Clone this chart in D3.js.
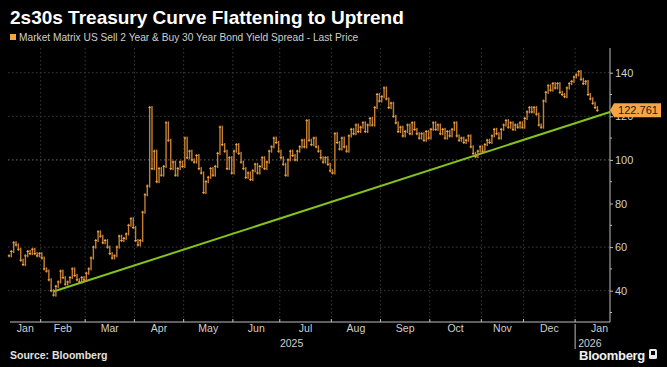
<!DOCTYPE html>
<html>
<head>
<meta charset="utf-8">
<script src="https://cdn.jsdelivr.net/npm/d3@7"></script>
<style>
  html, body { margin: 0; padding: 0; background: #000; }
  svg { display: block; }
</style>
</head>
<body>
<svg id="chart" width="667" height="367"></svg>
<script>
// ---------- DATA ----------
const title = "2s30s Treasury Curve Flattening to Uptrend";
const legendLabel = "Market Matrix US Sell 2 Year & Buy 30 Year Bond Yield Spread - Last Price";
const sourceText = "Source: Bloomberg";
const startDate = "2025-01-13";
const endDate = "2026-01-15";
const holidays = ["2025-01-20","2025-02-17","2025-04-18","2025-05-26","2025-06-19","2025-07-04",
  "2025-09-01","2025-10-13","2025-11-11","2025-11-27","2025-12-25","2026-01-01"];
// daily closing spread (bp), one per trading day
const closes = [
  56,58,62,61,59,54,52,56,58,57,59,57,56,57,
  55,50,49,45,40,38,42,44,49,46,43,44,46,50,47,45,44,46,45,
  48,50,55,60,63,67,65,62,63,60,57,55,56,60,65,63,64,66,70,73,69,
  63,61,63,76,84,88,124,96,104,90,96,93,97,117,109,96,99,93,96,99,97,
  110,101,104,100,99,102,96,94,85,90,92,96,93,97,103,115,107,104,96,101,94,
  104,107,103,99,96,92,94,91,95,98,94,97,101,96,99,104,106,110,108,104,
  101,98,93,100,104,102,100,104,106,109,106,118,109,107,110,106,104,101,99,101,98,95,
  94,112,108,105,110,106,104,111,114,112,116,113,115,117,113,116,119,116,124,130,127,
  129,133,128,124,126,120,117,113,115,111,113,116,112,117,114,112,110,112,109,113,110,
  114,117,114,116,112,114,110,113,111,114,117,111,109,110,108,109,111,106,103,101.5,104,106,
  104,107,109,108,111,114,112,110,114,116,118,115,117,114,116,115,117,115,
  119,122,124,122,124,121,116,115,127,131,134,132,135,133,135,131,130,129,133,135,136,138,
  139,140.5,137,135,136,130,128,126,124,122.761
];
const lastValue = 122.761;
// trendline anchors: date of the February low and level at the right edge
const trendStartDate = "2025-02-10";
const trendStartValue = 39.6;
const trendEndValue = 122.0;
const yTicksMajor = [40, 60, 80, 100, 120, 140];
const yTicksMinor = [30, 50, 70, 90, 110, 130];
const yGrid = [40, 60, 100, 120, 140];
const monthNames = ["Jan","Feb","Mar","Apr","May","Jun","Jul","Aug","Sep","Oct","Nov","Dec"];
const yearLabels = ["2025", "2026"];

// ---------- BUILD DATES ----------
const parse = d3.utcParse("%Y-%m-%d");
const fmt = d3.utcFormat("%Y-%m-%d");
const holidaySet = new Set(holidays);
const dates = d3.utcDay.range(parse(startDate), d3.utcDay.offset(parse(endDate), 1))
  .filter(d => d.getUTCDay() !== 0 && d.getUTCDay() !== 6 && !holidaySet.has(fmt(d)));
const data = dates.map((d, i) => ({ date: d, i, close: closes[i], open: i ? closes[i-1] : closes[i] }));

// ---------- LAYOUT ----------
const svg = d3.select("#chart");
const plotLeft = 8, plotRight = 610, plotTop = 48, plotBottom = 322;
const FONT = "Liberation Sans, Arial, sans-serif";

const x = d3.scaleLinear().domain([0, data.length - 1]).range([9, 597.4]);
const y = d3.scaleLinear().domain([40, 140]).range([290.7, 72.7]);
const idxRight = x.invert(plotRight);

svg.append("rect").attr("width", 667).attr("height", 367).attr("fill", "#000");

// title & legend
svg.append("text").attr("x", 10).attr("y", 24)
  .attr("fill", "#fff").attr("font-family", FONT)
  .attr("font-weight", "bold").attr("font-size", 19).text(title);
svg.append("rect").attr("x", 10).attr("y", 34).attr("width", 6).attr("height", 6).attr("fill", "#f7a33c");
svg.append("text").attr("x", 19).attr("y", 40.5)
  .attr("fill", "#cfcfcf").attr("font-family", FONT)
  .attr("font-size", 10.2).text(legendLabel);

// month boundaries (first trading day of each month)
const monthStarts = data.filter((d, i) => i > 0 && d.date.getUTCMonth() !== data[i-1].date.getUTCMonth());
const tickXs = monthStarts.map(d => x(d.i - 0.5));

// vertical grid
const grid = svg.append("g");
grid.selectAll("line.v").data(tickXs).join("line")
  .attr("x1", d => d).attr("x2", d => d).attr("y1", plotTop).attr("y2", plotBottom)
  .attr("stroke", "#3a3a3a").attr("stroke-width", 1).attr("stroke-dasharray", "1.5,2.5");
// horizontal grid
grid.selectAll("line.h").data(yGrid).join("line")
  .attr("x1", plotLeft).attr("x2", plotRight).attr("y1", d => y(d)).attr("y2", d => y(d))
  .attr("stroke", d => d === 100 ? "#6a6a6a" : "#3c3c3c").attr("stroke-width", 1)
  .attr("stroke-dasharray", "1.5,2.5");

// trend line
const trendStartIdx = data.find(d => fmt(d.date) === trendStartDate).i;
svg.append("line")
  .attr("x1", x(trendStartIdx)).attr("y1", y(trendStartValue))
  .attr("x2", x(idxRight)).attr("y2", y(trendEndValue))
  .attr("stroke", "#86c21c").attr("stroke-width", 2);

// price bars (open = previous close)
const bars = svg.append("g");
bars.selectAll("rect").data(data).join("rect")
  .attr("x", d => x(d.i) - 0.7).attr("width", 1.4)
  .attr("y", d => y(Math.max(d.open, d.close)) - 1.5)
  .attr("height", d => Math.abs(y(d.open) - y(d.close)) + 3)
  .attr("fill", "#cf8636").attr("opacity", 0.95);
bars.selectAll("line").data(data).join("line")
  .attr("x1", d => x(d.i) - 1.2).attr("x2", d => x(d.i) + 1.2)
  .attr("y1", d => y(d.close)).attr("y2", d => y(d.close))
  .attr("stroke", "#f5ad55").attr("stroke-width", 1);

// right axis
const axisColor = "#bdbdbd";
svg.append("line").attr("x1", plotRight).attr("x2", plotRight).attr("y1", plotTop).attr("y2", plotBottom)
  .attr("stroke", axisColor).attr("stroke-width", 1);
svg.append("g").selectAll("line").data(yTicksMinor).join("line")
  .attr("x1", plotRight).attr("x2", plotRight + 2).attr("y1", d => y(d)).attr("y2", d => y(d))
  .attr("stroke", axisColor);
const yAxis = d3.axisRight(y).tickValues(yTicksMajor).tickSize(3).tickPadding(2);
const yg = svg.append("g").attr("transform", `translate(${plotRight},0)`).call(yAxis);
yg.select(".domain").remove();
yg.selectAll("line").attr("stroke", axisColor);
yg.selectAll("text").attr("fill", "#cfcfcf").attr("font-size", 11).attr("font-family", FONT);

// bottom axis
svg.append("line").attr("x1", plotLeft + 2).attr("x2", plotRight).attr("y1", plotBottom).attr("y2", plotBottom)
  .attr("stroke", axisColor);
svg.append("g").selectAll("line").data(tickXs).join("line")
  .attr("x1", d => d).attr("x2", d => d).attr("y1", plotBottom - 3).attr("y2", plotBottom)
  .attr("stroke", axisColor);
const bounds = [plotLeft + 2].concat(tickXs).concat([plotRight + 14]);
const monthLabels = [data[0]].concat(monthStarts).map((d, k) => ({
  label: monthNames[d.date.getUTCMonth()],
  x: (bounds[k] + bounds[k+1]) / 2
}));
svg.append("g").selectAll("text").data(monthLabels).join("text")
  .attr("x", d => d.x).attr("y", 332).attr("text-anchor", "middle")
  .attr("fill", "#cfcfcf").attr("font-size", 10.5)
  .attr("font-family", FONT).text(d => d.label);
// year labels
const janIdx = monthStarts.find(d => d.date.getUTCFullYear() === 2026).i;
const xJan = x(janIdx - 0.5);
svg.append("text").attr("x", (plotLeft + xJan) / 2).attr("y", 347).attr("text-anchor", "middle")
  .attr("fill", "#cfcfcf").attr("font-size", 10.5)
  .attr("font-family", FONT).text(yearLabels[0]);
svg.append("line").attr("x1", xJan).attr("x2", xJan).attr("y1", 324).attr("y2", 349)
  .attr("stroke", axisColor);
svg.append("text").attr("x", xJan + 3).attr("y", 347)
  .attr("fill", "#cfcfcf").attr("font-size", 10.5)
  .attr("font-family", FONT).text(yearLabels[1]);

// last price label
const ly = y(lastValue);
const lg = svg.append("g");
lg.append("path")
  .attr("d", `M${plotRight},${ly} L${plotRight + 4},${ly - 7} L${plotRight + 51},${ly - 7} L${plotRight + 51},${ly + 7} L${plotRight + 4},${ly + 7} Z`)
  .attr("fill", "#f6a544");
lg.append("text").attr("x", plotRight + 28).attr("y", ly + 4).attr("text-anchor", "middle")
  .attr("fill", "#1a1a1a").attr("font-size", 11)
  .attr("font-family", FONT).text(d3.format(".3f")(lastValue));

// footer
svg.append("text").attr("x", 10).attr("y", 359).attr("fill", "#e0e0e0")
  .attr("font-weight", "bold").attr("font-size", 10.5)
  .attr("font-family", FONT).text(sourceText);
svg.append("text").attr("x", 645).attr("y", 360).attr("text-anchor", "end").attr("fill", "#f0f0f0")
  .attr("font-weight", "bold").attr("font-size", 13).attr("letter-spacing", -0.3)
  .attr("font-family", FONT).text("Bloomberg");
svg.append("rect").attr("x", 649).attr("y", 349).attr("width", 8).attr("height", 10)
  .attr("rx", 1.5).attr("fill", "#e8e8e8");
svg.append("rect").attr("x", 651).attr("y", 351).attr("width", 4).attr("height", 4)
  .attr("fill", "#000");
</script>
</body>
</html>
